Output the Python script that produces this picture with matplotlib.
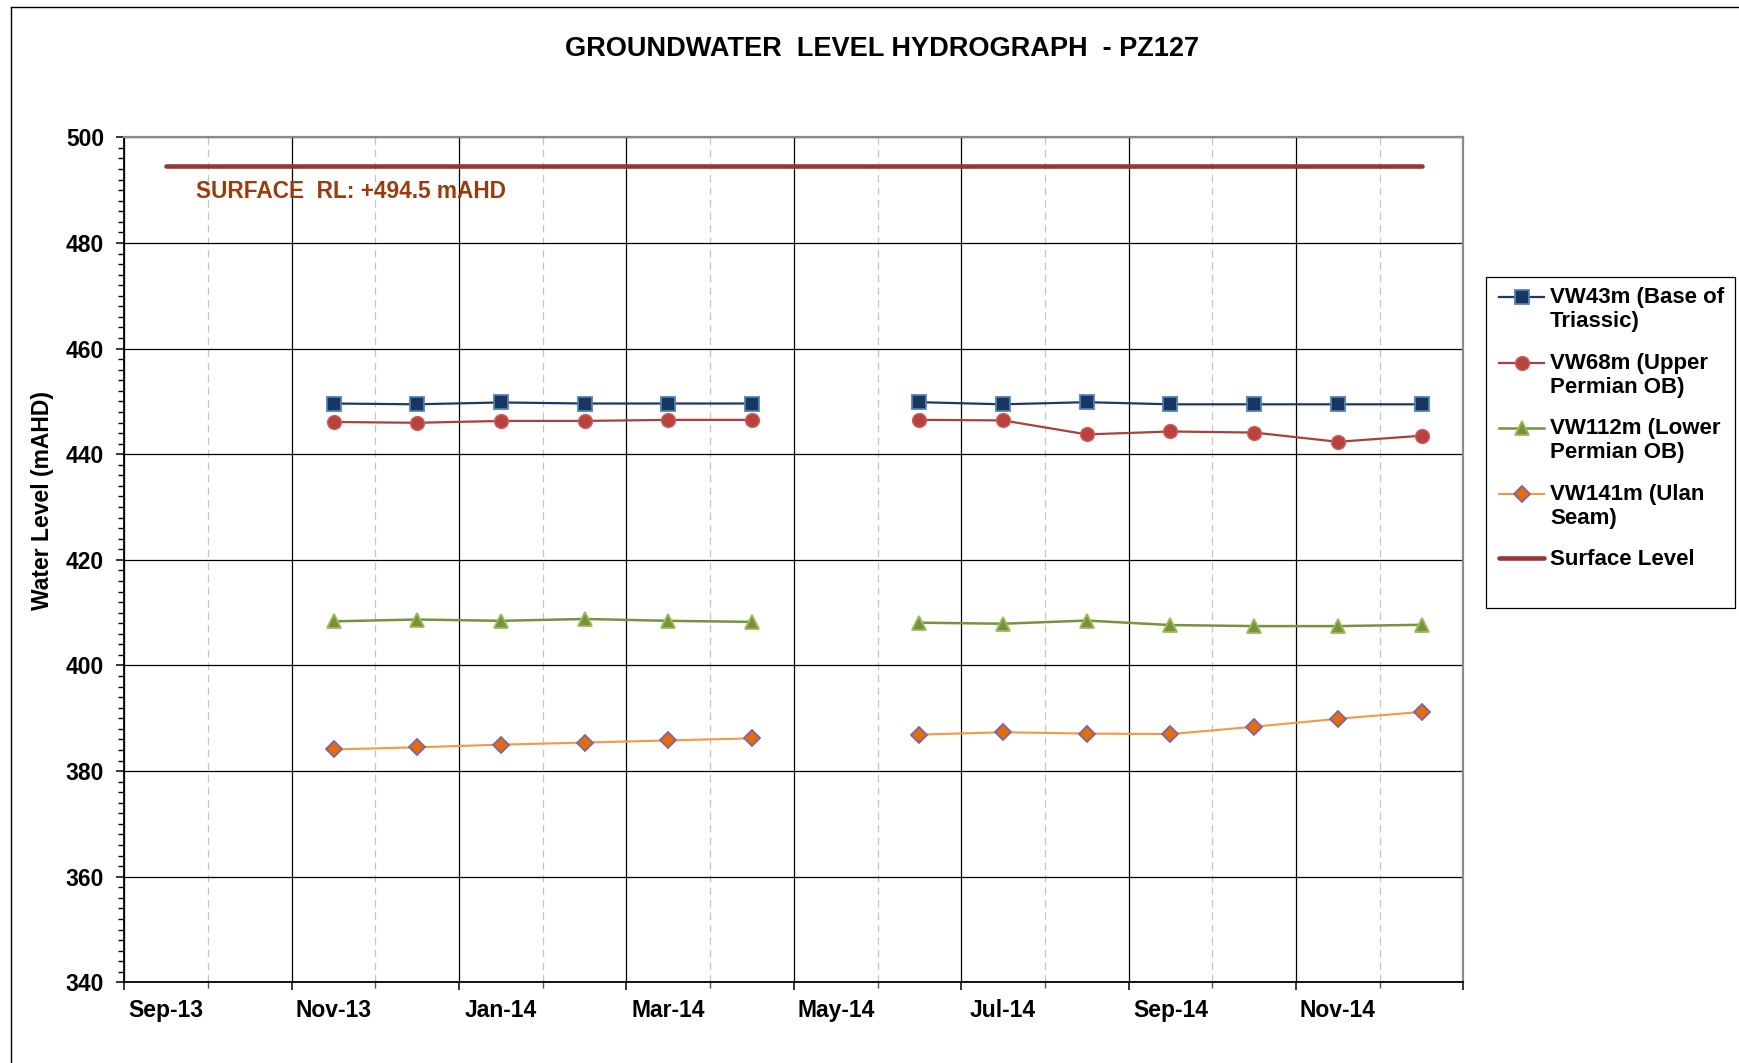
import numpy as np
import pandas as pd
import matplotlib
matplotlib.use('Agg')
import matplotlib.pyplot as plt
from matplotlib.ticker import MultipleLocator
from matplotlib.legend_handler import HandlerLine2D
from matplotlib.lines import Line2D
from matplotlib.patches import Rectangle

plt.rcParams['font.family'] = ['Liberation Sans', 'DejaVu Sans']
plt.rcParams['font.weight'] = 'bold'

# monthly readings (May-14 missing)
dates = ['2013-11', '2013-12', '2014-01', '2014-02', '2014-03', '2014-04', '2014-05',
         '2014-06', '2014-07', '2014-08', '2014-09', '2014-10', '2014-11', '2014-12']
vw43 = [449.6, 449.45, 449.8, 449.6, 449.6, 449.6, np.nan,
        449.85, 449.45, 449.85, 449.45, 449.45, 449.45, 449.45]
vw68 = [446.1, 445.95, 446.3, 446.3, 446.5, 446.5, np.nan,
        446.5, 446.4, 443.75, 444.3, 444.1, 442.35, 443.5]
vw112 = [408.35, 408.7, 408.45, 408.8, 408.45, 408.25, np.nan,
         408.1, 407.9, 408.5, 407.65, 407.45, 407.45, 407.7]
vw141 = [384.1, 384.5, 385.0, 385.4, 385.8, 386.2, np.nan,
         386.9, 387.35, 387.1, 387.0, 388.4, 389.9, 391.2]

surface_rl = 494.5
surface_dates = ['2013-09', '2014-12']

month_labels = ['Sep-13', 'Nov-13', 'Jan-14', 'Mar-14', 'May-14', 'Jul-14', 'Sep-14', 'Nov-14']
label_dates = ['2013-09', '2013-11', '2014-01', '2014-03', '2014-05', '2014-07', '2014-09', '2014-11']


def month_index(d):
    # months counted from Sep-13
    d = pd.to_datetime(d)
    return np.array((d.year - 2013) * 12 + d.month - 9, dtype=float)


x = month_index(dates)
xs = month_index(surface_dates)
xl = month_index(label_dates)


class TopLineHandler(HandlerLine2D):
    """ put the legend symbol on the first line of a two-line label """
    def __init__(self, shift=0.0, **kw):
        super().__init__(**kw)
        self.shift = shift

    def create_artists(self, legend, orig_handle, xdescent, ydescent, width, height, fontsize, trans):
        return super().create_artists(legend, orig_handle, xdescent, ydescent - 2 * self.shift,
                                      width, height, fontsize, trans)


fig = plt.figure(figsize=(17.39, 10.63), dpi=100)
ax = fig.add_axes([0.0715, 0.0759, 0.7700, 0.7949])

l1, = ax.plot(x, vw43, color='#1F3864', lw=1.6, marker='s', ms=9.5, mfc='#17375E', mec='#4F81BD', mew=1.3,
              label='VW43m (Base of\nTriassic)')
l2, = ax.plot(x, vw68, color='#A9403D', lw=1.6, marker='o', ms=10, mfc='#B9413E', mec='#CC6360', mew=1.0,
              label='VW68m (Upper\nPermian OB)')
l3, = ax.plot(x, vw112, color='#77933C', lw=1.8, marker='^', ms=10, mfc='#76923C', mec='#9BBB59', mew=1.3,
              label='VW112m (Lower\nPermian OB)')
l4, = ax.plot(x, vw141, color='#F79646', lw=1.5, marker='D', ms=8, mfc='#E46C0A', mec='#8064A2', mew=1.3,
              label='VW141m (Ulan\nSeam)')
l5, = ax.plot(xs, [surface_rl, surface_rl], color='#953735', lw=3.3, solid_capstyle='round',
              label='Surface Level')

ax.text(0.36, 489.8, 'SURFACE  RL: +494.5 mAHD', color='#9C3A0C', fontsize=16.3,
        fontweight='bold', va='center', ha='left')

ax.set_xlim(-0.5, 15.5)
ax.set_ylim(340, 500)

# gridlines on half months, labels on the month
ax.set_xticks(np.arange(-0.5, 16, 2))
ax.set_xticks(np.arange(0.5, 16, 2), minor=True)
ax.set_xticklabels([])
ax.yaxis.set_major_locator(MultipleLocator(20))
ax.yaxis.set_minor_locator(MultipleLocator(2))

ax.grid(which='major', color='black', lw=0.9)
ax.grid(which='minor', axis='x', color='#c4c4c4', lw=0.9, ls=(0, (6, 4)))
ax.set_axisbelow(True)

ax.tick_params(axis='y', which='major', direction='out', length=5.5, width=1.1, labelsize=16.5, pad=9)
ax.tick_params(axis='y', which='minor', direction='out', length=4.5, width=1.0)
ax.tick_params(axis='x', which='major', direction='out', length=5.5, width=1.1)
ax.tick_params(axis='x', which='minor', direction='out', length=4, width=1.0, color='#555555')

for s in ['left', 'bottom']:
    ax.spines[s].set_color('black')
    ax.spines[s].set_linewidth(1.3)
for s in ['top', 'right']:
    ax.spines[s].set_color('#8a8a8a')
    ax.spines[s].set_linewidth(1.6)

sec = ax.secondary_xaxis('bottom')
sec.set_xticks(xl, month_labels)
sec.tick_params(length=0, labelsize=16.5, pad=12)
sec.spines['bottom'].set_visible(False)

fig.text(0.0242, 1 - 501 / 1063, 'Water Level (mAHD)', rotation=90, fontsize=16.5,
         fontweight='bold', ha='center', va='center')
fig.text(882 / 1739, 1 - 49 / 1063, 'GROUNDWATER  LEVEL HYDROGRAPH  - PZ127', fontsize=19.5,
         fontweight='bold', ha='center', va='center')

# legend
handles = [l1, l2, l3, l4, l5]
hmap = {l1: TopLineHandler(9.2), l2: TopLineHandler(9.2), l3: TopLineHandler(9.2),
        l4: TopLineHandler(9.2), l5: HandlerLine2D()}
leg = fig.legend(handles=handles, handler_map=hmap, loc='upper left', bbox_to_anchor=(1490 / 1739, 1 - 278 / 1063),
                 frameon=False, fontsize=16, handlelength=2.05, handletextpad=0.25, labelspacing=0.92,
                 numpoints=1, borderpad=0.4, borderaxespad=0)
fig.patches.append(Rectangle((1486 / 1739, 1 - 608 / 1063), 249 / 1739, 331 / 1063,
                             transform=fig.transFigure, fill=False, ec='black', lw=0.9))

# outer chart border
fig.add_artist(Line2D([11 / 1739, 11 / 1739], [0, 1 - 7 / 1063], transform=fig.transFigure, color='black', lw=1))
fig.add_artist(Line2D([11 / 1739, 1], [1 - 7 / 1063, 1 - 7 / 1063], transform=fig.transFigure, color='black', lw=1))

fig.savefig('out.png', dpi=100)
